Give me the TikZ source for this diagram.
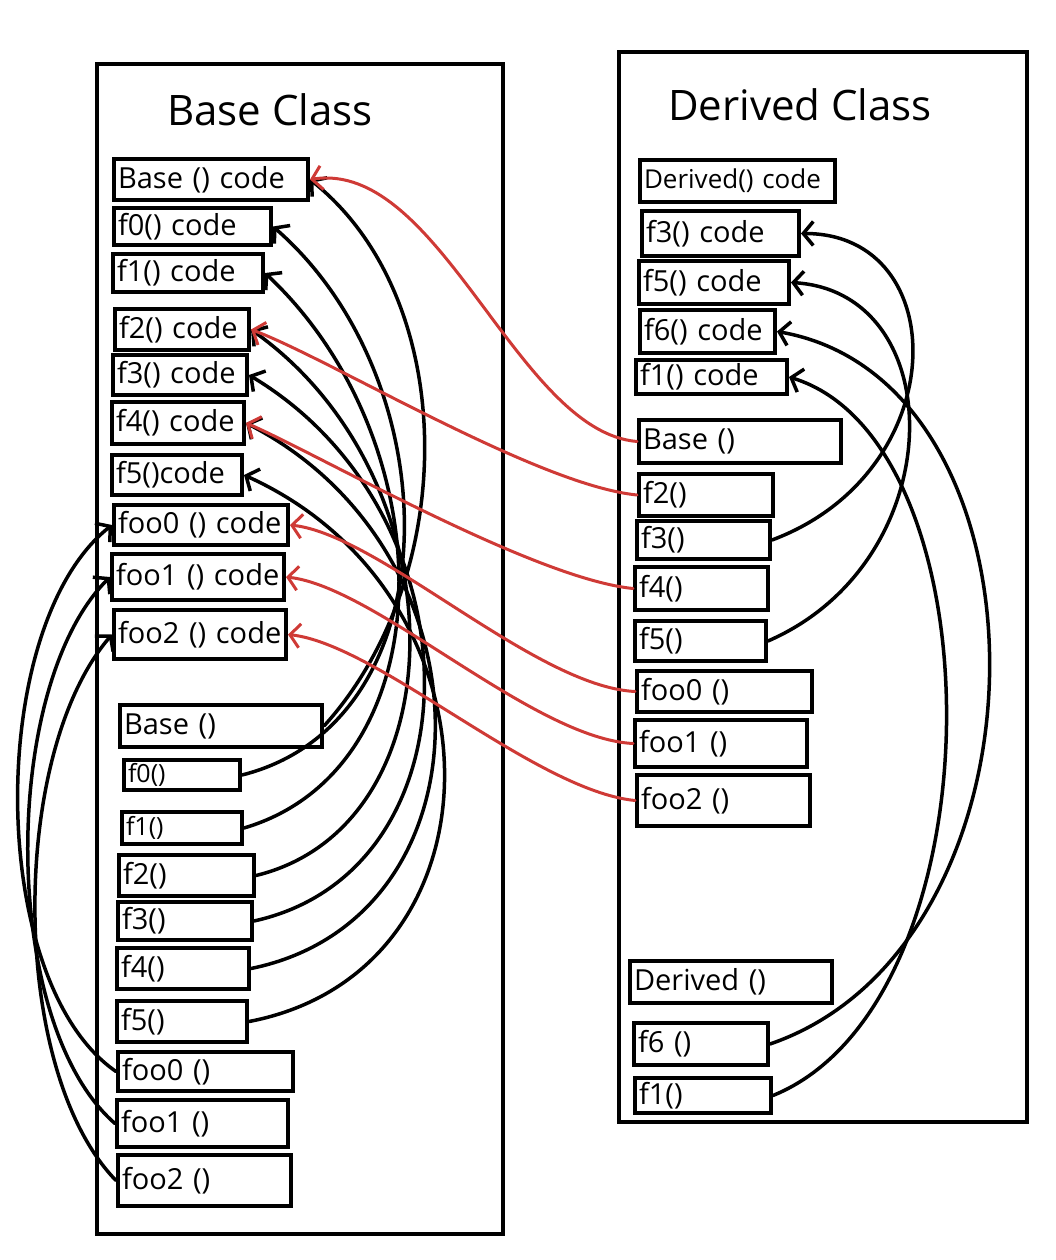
\documentclass[tikz,border=0pt]{standalone}
\usepackage{fontspec}
\setmainfont{Open Sans}
\usepackage{xcolor}
\usepackage{tikz}
\usetikzlibrary{arrows.meta}
\definecolor{overrideRed}{HTML}{CF3A36}

\begin{document}
\begin{tikzpicture}[
    x=1pt, y=-1pt,
    cls/.style={draw, line width=4.5pt},
    title/.style={font=\fontsize{42}{46}\selectfont},
    slot/.style={
      rectangle, draw, line width=4pt, anchor=north west,
      inner xsep=4pt, inner ysep=0pt, align=left,
      font=\fontsize{29}{31}\selectfont
    },
    small/.style={font=\fontsize{25}{27}\selectfont},
    call/.style={-{Straight Barb[length=10pt, width=24pt]}, line width=3.5pt, line cap=round},
    over/.style={call, overrideRed, line width=3pt},
  ]
  \useasboundingbox (0,0) rectangle (1056,1260);

  %% ── Base class ──
  \draw[cls] (97,64) rectangle (503,1234);
  \node[title] (baseTitle) at (270,110) {Base Class};

  \node[slot, text width=186pt, minimum height=41pt] (cBase) at (112,157) {Base () code};
  \node[slot, text width=149pt, minimum height=37pt] (c0)    at (112,206) {f0() code};
  \node[slot, text width=142pt, minimum height=38pt] (c1)    at (111,252) {f1() code};
  \node[slot, text width=126pt, minimum height=41pt] (c2)    at (113,307) {f2() code};
  \node[slot, text width=126pt, minimum height=40pt] (c3)    at (111,353) {f3() code};
  \node[slot, text width=124pt, minimum height=42pt] (c4)    at (110,400) {f4() code};
  \node[slot, text width=122pt, minimum height=40pt] (c5)    at (110,453) {f5()code};
  \node[slot, text width=166pt, minimum height=40pt] (cFoo0) at (112,503) {foo0 () code};
  \node[slot, text width=164pt, minimum height=46pt] (cFoo1) at (110,552) {foo1 () code};
  \node[slot, text width=164pt, minimum height=49pt] (cFoo2) at (112,608) {foo2 () code};

  \node[slot, text width=194pt, minimum height=42pt] (vBase) at (118,703) {Base ()};
  \node[slot, small, text width=108pt, minimum height=30pt] (v0) at (122,758) {f0()};
  \node[slot, small, text width=112pt, minimum height=32pt] (v1) at (120,810) {f1()};
  \node[slot, text width=127pt, minimum height=41pt] (v2)    at (117,853) {f2()};
  \node[slot, text width=126pt, minimum height=38pt] (v3)    at (116,900) {f3()};
  \node[slot, text width=124pt, minimum height=41pt] (v4)    at (115,946) {f4()};
  \node[slot, text width=122pt, minimum height=41pt] (v5)    at (115,999) {f5()};
  \node[slot, text width=167pt, minimum height=39pt] (vFoo0) at (116,1050) {foo0 ()};
  \node[slot, text width=163pt, minimum height=47pt] (vFoo1) at (115,1098) {foo1 ()};
  \node[slot, text width=165pt, minimum height=51pt] (vFoo2) at (116,1153) {foo2 ()};

  %% ── Derived class ──
  \draw[cls] (619,52) rectangle (1027,1122);
  \node[title] (derivedTitle) at (800,105) {Derived Class};

  \node[slot, font=\fontsize{26}{28}\selectfont, text width=187pt, minimum height=42pt] (dcDer) at (638,158) {Derived() code};
  \node[slot, text width=149pt, minimum height=45pt] (dc3)   at (640,209) {f3() code};
  \node[slot, text width=142pt, minimum height=43pt] (dc5)   at (637,259) {f5() code};
  \node[slot, text width=127pt, minimum height=43pt] (dc6)   at (638,308) {f6() code};
  \node[slot, text width=143pt, minimum height=34pt] (dc1)   at (634,358) {f1() code};

  \node[slot, text width=194pt, minimum height=43pt] (dBase) at (637,418) {Base ()};
  \node[slot, text width=126pt, minimum height=42pt] (d2)    at (637,472) {f2()};
  \node[slot, text width=125pt, minimum height=38pt] (d3)    at (635,519) {f3()};
  \node[slot, text width=125pt, minimum height=43pt] (d4)    at (633,565) {f4()};
  \node[slot, text width=123pt, minimum height=40pt] (d5)    at (633,619) {f5()};
  \node[slot, text width=167pt, minimum height=41pt] (dFoo0) at (635,669) {foo0 ()};
  \node[slot, text width=164pt, minimum height=47pt] (dFoo1) at (633,718) {foo1 ()};
  \node[slot, text width=165pt, minimum height=51pt] (dFoo2) at (635,773) {foo2 ()};

  \node[slot, text width=194pt, minimum height=42pt] (dDer)  at (628,959) {Derived ()};
  \node[slot, text width=126pt, minimum height=42pt] (df6)   at (632,1021) {f6 ()};
  \node[slot, text width=128pt, minimum height=35pt] (df1)   at (633,1076) {f1()};

  %% ── Base vtable -> base code ──
  \draw[call] (vBase.east) .. controls +(136,-150) and +(150,120) .. (cBase.east);
  \draw[call] (v0.east) .. controls +(211,-53) and +(179,156) .. (c0.east);
  \draw[call] (v1.east) .. controls +(203,-60) and +(181,170) .. (c1.east);
  \draw[call] (v2.east) .. controls +(205,-50) and +(211,150) .. (c2.east);
  \draw[call] (v3.east) .. controls +(227,-50) and +(233,140) .. (c3.east);
  \draw[call] (v4.east) .. controls +(245,-50) and +(252,130) .. (c4.east);
  \draw[call] (v5.east) .. controls +(261,-50) and +(266,120) .. (c5.east);
  \draw[call] (vFoo0.west) .. controls +(-130,-90) and +(-126,100) .. (cFoo0.west);
  \draw[call] (vFoo1.west) .. controls +(-115,-100) and +(-110,110) .. (cFoo1.west);
  \draw[call] (vFoo2.west) .. controls +(-107,-110) and +(-103,120) .. (cFoo2.west);

  %% ── Derived vtable -> base code (inherited) ──
  \draw[over] (dBase.west) .. controls +(-120,-10) and +(130,-20) .. (cBase.east);
  \draw[over] (d2.west) .. controls +(-100,-10) and +(80,30) .. (c2.east);
  \draw[over] (d4.west) .. controls +(-100,-10) and +(70,30) .. (c4.east);
  \draw[over] (dFoo0.west) .. controls +(-100,-5) and +(90,10) .. (cFoo0.east);
  \draw[over] (dFoo1.west) .. controls +(-100,-5) and +(90,10) .. (cFoo1.east);
  \draw[over] (dFoo2.west) .. controls +(-100,-10) and +(90,10) .. (cFoo2.east);

  %% ── Derived vtable -> derived code ──
  \draw[call] (d3.east) .. controls +(182,-68) and +(153,0) .. (dc3.east);
  \draw[call] (d5.east) .. controls +(184,-80) and +(161,10) .. (dc5.east);
  \draw[call] (df6.east) .. controls +(291,-100) and +(284,50) .. (dc6.east);
  \draw[call] (df1.east) .. controls +(228,-93) and +(212,65) .. (dc1.east);

\end{tikzpicture}
\end{document}
